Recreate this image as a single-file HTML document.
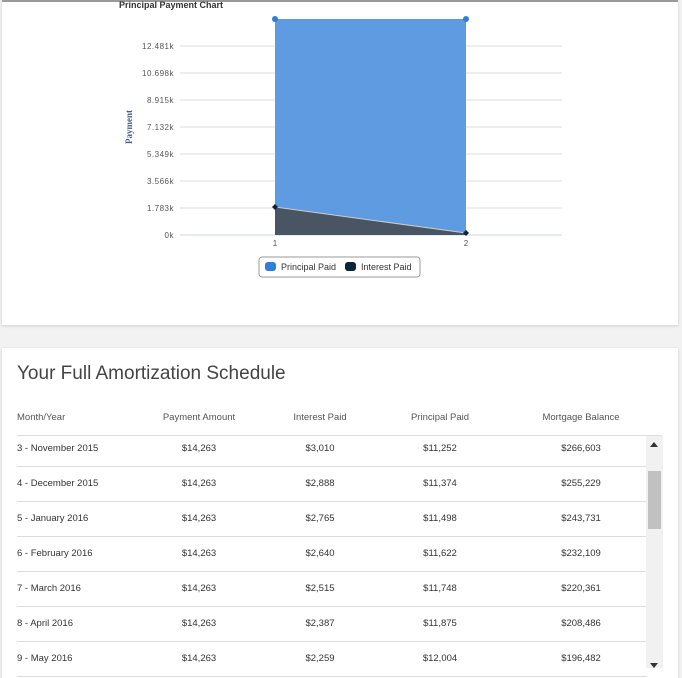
<!DOCTYPE html>
<html><head><meta charset="utf-8"><style>
body{margin:0;width:682px;height:668px;overflow:hidden;background:#f2f2f2;font-family:"Liberation Sans",sans-serif;position:relative}
.card{position:absolute;background:#fff;box-shadow:0 1px 3px rgba(0,0,0,.15)}
.th,.td{position:absolute;font-size:9.5px;color:#555;white-space:nowrap}
.td{color:#333;font-size:9.5px}
.c{transform:translateX(-50%)}
.line{position:absolute;left:17px;width:630px;height:1px;background:#ddd}
</style></head><body>
<div class="card" style="left:2px;top:0;width:676px;height:325px;border-top:2px solid #999;box-sizing:border-box">
<svg id="chart" width="676" height="325" style="position:absolute;left:-2px;top:-2px"></svg>
</div>
<div class="card" style="left:2px;top:348px;width:676px;height:330px"></div>
<div style="position:absolute;left:17px;top:363px;font-size:19px;color:#444">Your Full Amortization Schedule</div>
<div class="th" style="left:17px;top:412px">Month/Year</div>
<div class="th c" style="left:199px;top:412px">Payment Amount</div>
<div class="th c" style="left:320px;top:412px">Interest Paid</div>
<div class="th c" style="left:440px;top:412px">Principal Paid</div>
<div class="th c" style="left:581px;top:412px">Mortgage Balance</div>
<div id="rows"></div>
<div style="position:absolute;left:646px;top:436px;width:17px;height:232px;background:#f1f1f1">
<div style="position:absolute;left:4px;top:6px;width:0;height:0;border-left:4px solid transparent;border-right:4px solid transparent;border-bottom:5px solid #333"></div>
<div style="position:absolute;left:2px;top:35px;width:13px;height:58px;background:#c1c1c1"></div>
<div style="position:absolute;left:4px;top:227px;width:0;height:0;border-left:4px solid transparent;border-right:4px solid transparent;border-top:5px solid #333"></div>
</div>
<script>
const categories=["1","2"];
const interestVals=[1850,130];
const totalVals=[14263,14263];
const yTicks=[0,1783,3566,5349,7132,8915,10698,12481];
const yTickLabels=["0k","1.783k","3.566k","5.349k","7.132k","8.915k","10.698k","12.481k"];
const rowMonths=["3 - November 2015","4 - December 2015","5 - January 2016","6 - February 2016","7 - March 2016","8 - April 2016","9 - May 2016"];
const rowPayment=["$14,263","$14,263","$14,263","$14,263","$14,263","$14,263","$14,263"];
const rowInterest=["$3,010","$2,888","$2,765","$2,640","$2,515","$2,387","$2,259"];
const rowPrincipal=["$11,252","$11,374","$11,498","$11,622","$11,748","$11,875","$12,004"];
const rowBalance=["$266,603","$255,229","$243,731","$232,109","$220,361","$208,486","$196,482"];
const NS="http://www.w3.org/2000/svg";
const svg=document.getElementById('chart');
const x=i=>275+i*191;
const y=v=>235-v*(189/12481);
function mk(t,a,txt){const e=document.createElementNS(NS,t);for(const k in a)e.setAttribute(k,a[k]);if(txt!==undefined)e.textContent=txt;svg.appendChild(e);return e;}
let t=mk('text',{x:119,y:8,'font-size':9,'font-weight':'bold',fill:'#333'},'Principal Payment Chart');


yTicks.forEach((v,i)=>{
 let l=mk('line',{x1:180,x2:562,y1:y(v),y2:y(v),stroke:v===0?'#ccd6eb':'#ddd','stroke-width':1});
 
 
 let tx=mk('text',{x:174,y:y(v)+3,'font-size':8,fill:'#555','text-anchor':'end','letter-spacing':'0.5'},yTickLabels[i]);
 
 
});
let yt=mk('text',{x:0,y:0,'font-size':9,'font-weight':'bold',fill:'#4a5f8a','text-anchor':'middle',transform:'translate(132,127) rotate(-90)','font-family':'Liberation Serif'},'Payment');


categories.forEach((c,i)=>{
 let tx=mk('text',{x:x(i),y:246,'font-size':8,fill:'#555','text-anchor':'middle'},c);
 
 
});
let ptsTop=categories.map((c,i)=>x(i)+','+y(totalVals[i])).join(' ');
let ptsInt=categories.map((c,i)=>x(i)+','+y(interestVals[i]));
let pa=mk('polygon',{points:ptsTop+' '+ptsInt.slice().reverse().join(' '),fill:'#5f9be0'});


let ia=mk('polygon',{points:ptsInt.join(' ')+' '+x(1)+','+y(0)+' '+x(0)+','+y(0),fill:'#4a5563'});


mk('polyline',{points:ptsInt.join(' '),fill:'none',stroke:'#ccc','stroke-width':1});
categories.forEach((c,i)=>{
 let p=mk('circle',{cx:x(i),cy:y(totalVals[i]),r:3,fill:'#2f7ed8'});
 
 
 let q=mk('path',{d:`M${x(i)-3} ${y(interestVals[i])}L${x(i)} ${y(interestVals[i])-3}L${x(i)+3} ${y(interestVals[i])}L${x(i)} ${y(interestVals[i])+3}Z`,fill:'#0d233a'});
 
 
});
let lg=mk('rect',{x:259,y:257,width:161,height:20,rx:3,fill:'#fff',stroke:'#999'});


let s1=mk('rect',{x:265,y:262,width:11,height:9,rx:3,fill:'#2f7ed8'});


let l1=mk('text',{x:281,y:270,'font-size':9,fill:'#333'},'Principal Paid');


let s2=mk('rect',{x:345,y:262,width:11,height:9,rx:3,fill:'#0d233a'});


let l2=mk('text',{x:361,y:270,'font-size':9,fill:'#333'},'Interest Paid');


const rows=document.getElementById('rows');
function div(cls,style,txt,name){const d=document.createElement('div');d.className=cls;d.style.cssText=style;if(txt)d.textContent=txt;rows.appendChild(d);return d;}
let l0=div('line','top:435px;width:645px','', 'header-divider');
rowMonths.forEach((m,i)=>{
 const top=443+i*35;
 div('td','left:17px;top:'+top+'px',m,'row-month');
 div('td c','left:199px;top:'+top+'px',rowPayment[i],'row-payment');
 div('td c','left:320px;top:'+top+'px',rowInterest[i],'row-interest');
 div('td c','left:440px;top:'+top+'px',rowPrincipal[i],'row-principal');
 div('td c','left:581px;top:'+top+'px',rowBalance[i],'row-balance');
 div('line','top:'+(466+i*35)+'px','','row-divider');
});
</script>
</body></html>
